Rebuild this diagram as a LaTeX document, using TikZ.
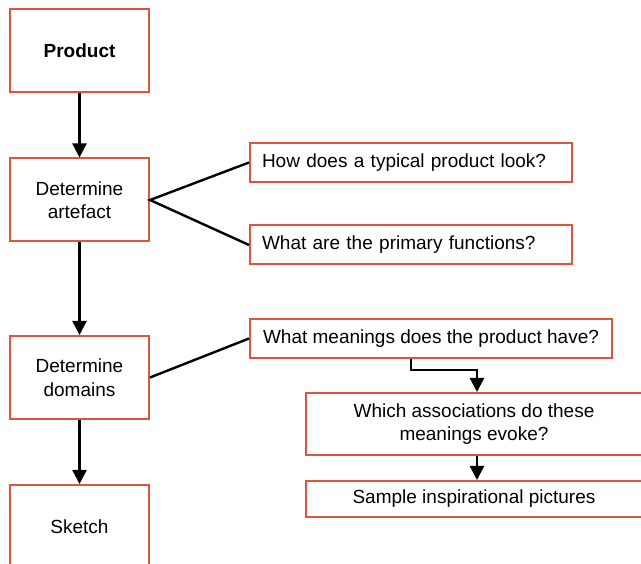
\documentclass[tikz,border=0pt]{standalone}
\usepackage{fontspec}
\setmainfont{Liberation Sans}
\usetikzlibrary{
   arrows.meta,
   positioning
}
\definecolor{boxred}{RGB}{222,84,64}

\begin{document}
\begin{tikzpicture}[
    x=1pt, y=-1pt,
    font=\fontsize{19}{23.5}\selectfont,
    box/.style={rectangle, draw=boxred, line width=2pt, fill=white, inner sep=0pt, align=center},
    stepbox/.style={box, minimum width=139pt, minimum height=83pt},
    qbox/.style={box, minimum height=39pt},
    arrow/.style={-{Triangle[width=14pt,length=14pt]}, line width=2.4pt},
    link/.style={line width=2.4pt}
]
\useasboundingbox (0,0) rectangle (641,564);
\clip (0,0) rectangle (641,564);

% main steps
\node[stepbox] (prod) at (79.5,51) {\bfseries Product};
\node[stepbox] (art) at (79.5,200) {Determine\\artefact};
\node[stepbox] (dom) at (79.5,377.5) {Determine\\domains};
\node[stepbox] (sk) at (79.5,526.5) {Sketch};

% questions
\node[qbox, text width=298pt, inner xsep=12pt, align=left] (q1) at (411,162.5) {How does a typical product look?};
\node[qbox, text width=298pt, inner xsep=12pt, align=left] (q2) at (411,245) {What are the primary functions?};
\node[qbox, minimum width=362pt] (q3) at (431,338.5) {What meanings does the product have?};
\node[box, minimum width=337pt, minimum height=62pt] (q4) at (474,424) {Which associations do these\\meanings evoke?};
\node[box, minimum width=337pt, minimum height=36pt] (q5) at (474,499) {Sample inspirational pictures};

\draw[arrow] (prod) -- (art);
\draw[arrow] (art) -- (dom);
\draw[arrow] (dom) -- (sk);

\draw[link] (q1.west) -- (art.east) -- (q2.west);
\draw[link] (dom.east) -- (q3.west);

\draw[arrow] ([xshift=-20pt]q3.south) -- ++(0,11) -| ([xshift=3pt]q4.north);
\draw[arrow] ([xshift=3pt]q4.south) -- ([xshift=3pt]q5.north);

\end{tikzpicture}
\end{document}
